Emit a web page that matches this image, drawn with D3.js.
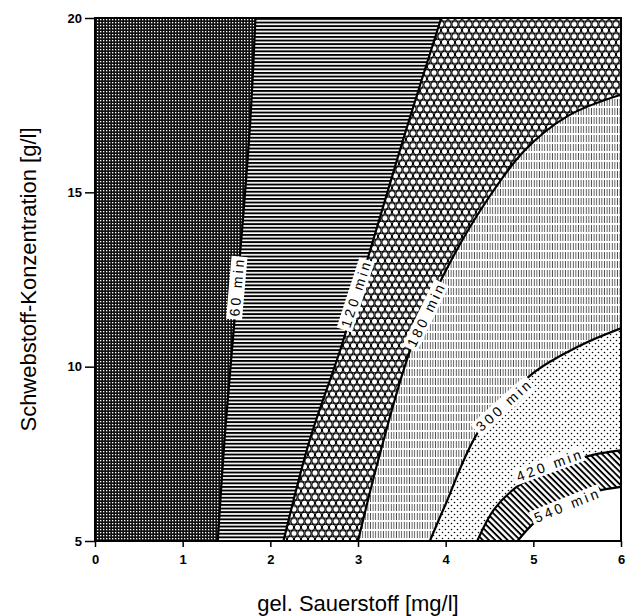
<!DOCTYPE html>
<html>
<head>
<meta charset="utf-8">
<script src="https://cdn.jsdelivr.net/npm/d3@7"></script>
<style>
  body { margin: 0; background: #fff; }
  text { font-family: "Liberation Sans", Arial, sans-serif; }
</style>
</head>
<body>
<div id="chart"></div>
<script>
// contour lines: [O2 mg/l, Schwebstoff g/l]
const iso60  = [[1.40, 5], [1.48, 8], [1.58, 11], [1.68, 14], [1.77, 17], [1.83, 20]];
const iso120 = [[2.15, 5], [2.45, 7.9], [2.80, 10.5], [3.17, 13.6], [3.55, 16.8], [3.95, 20]];
const iso180 = [[3.0, 5], [3.25, 7.5], [3.6, 10.5], [3.95, 12.5], [4.4, 14.5], [4.9, 16.2], [5.4, 17.2], [6.0, 17.8]];
const iso300 = [[3.82, 5], [3.99, 6.0], [4.39, 8.2], [4.99, 9.8], [5.53, 10.6], [6.0, 11.1]];
const iso420 = [[4.36, 5], [4.55, 5.9], [4.81, 6.55], [5.15, 7.04], [5.68, 7.47], [6.0, 7.6]];
const iso540 = [[4.82, 5], [5.02, 5.55], [5.38, 6.18], [5.7, 6.42], [6.0, 6.55]];

const labelText = ["60 min", "120 min", "180 min", "300 min", "420 min", "540 min"];
const labelX = [1.62, 2.98, 3.78, 4.67, 5.19, 5.39];
const labelY = [12.3, 12.1, 11.5, 8.9, 7.18, 6.03];
const labelAngle = [-85, -72, -64, -42, -20, -22];

const xTicks = [0, 1, 2, 3, 4, 5, 6];
const yTicks = [5, 10, 15, 20];

const width = 632, height = 616;
const margin = { top: 18, right: 11, bottom: 75, left: 95 };

const svg = d3.select("#chart").append("svg")
    .attr("width", width)
    .attr("height", height);

const x = d3.scaleLinear().domain([0, 6]).range([margin.left, width - margin.right]);
const y = d3.scaleLinear().domain([5, 20]).range([height - margin.bottom, margin.top]);

const defs = svg.append("defs");

// fill patterns, one per band
const pCross = defs.append("pattern").attr("id", "p60").attr("patternUnits", "userSpaceOnUse")
    .attr("width", 3).attr("height", 3);
pCross.append("rect").attr("width", 3).attr("height", 3).attr("fill", "#111");
pCross.append("rect").attr("x", 1).attr("y", 1).attr("width", 1.3).attr("height", 1.3).attr("fill", "#fff");

const pHoriz = defs.append("pattern").attr("id", "p120").attr("patternUnits", "userSpaceOnUse")
    .attr("width", 8).attr("height", 3.6);
pHoriz.append("rect").attr("width", 8).attr("height", 3.6).attr("fill", "#fff");
pHoriz.append("rect").attr("y", 0).attr("width", 8).attr("height", 1.9).attr("fill", "#000");

const hw = 7, hh = 7 * Math.sqrt(3);
const pHex = defs.append("pattern").attr("id", "p180").attr("patternUnits", "userSpaceOnUse")
    .attr("width", hw).attr("height", hh);
pHex.append("rect").attr("width", hw).attr("height", hh).attr("fill", "#fff");
[[0, 0], [hw, 0], [hw / 2, hh / 2], [0, hh], [hw, hh]].forEach(c => {
    pHex.append("circle").attr("cx", c[0]).attr("cy", c[1]).attr("r", 3.1)
        .attr("fill", "#fff").attr("stroke", "#000").attr("stroke-width", 1.1);
});

const pVert = defs.append("pattern").attr("id", "p300").attr("patternUnits", "userSpaceOnUse")
    .attr("width", 2.6).attr("height", 9);
pVert.append("rect").attr("width", 2.6).attr("height", 9).attr("fill", "#fff");
pVert.append("rect").attr("x", 0.8).attr("width", 0.9).attr("height", 7).attr("fill", "#000").attr("opacity", 0.7);

const pDots = defs.append("pattern").attr("id", "p420").attr("patternUnits", "userSpaceOnUse")
    .attr("width", 6).attr("height", 6);
pDots.append("rect").attr("width", 6).attr("height", 6).attr("fill", "#fff");
pDots.append("circle").attr("cx", 1.5).attr("cy", 1.5).attr("r", 0.8).attr("fill", "#000");
pDots.append("circle").attr("cx", 4.5).attr("cy", 4.5).attr("r", 0.8).attr("fill", "#000");

const pDiag = defs.append("pattern").attr("id", "p540").attr("patternUnits", "userSpaceOnUse")
    .attr("width", 4.4).attr("height", 4.4).attr("patternTransform", "rotate(45)");
pDiag.append("rect").attr("width", 4.4).attr("height", 4.4).attr("fill", "#fff");
pDiag.append("rect").attr("width", 4.4).attr("height", 1.9).attr("fill", "#000");

defs.append("clipPath").attr("id", "plotClip").append("rect")
    .attr("x", x(0)).attr("y", y(20))
    .attr("width", x(6) - x(0)).attr("height", y(5) - y(20));

const line = d3.line()
    .x(d => x(d[0]))
    .y(d => y(d[1]))
    .curve(d3.curveCatmullRom.alpha(0.5));

const plot = svg.append("g").attr("clip-path", "url(#plotClip)");

// base band (< 60 min)
plot.append("rect")
    .attr("x", x(0)).attr("y", y(20))
    .attr("width", x(6) - x(0)).attr("height", y(5) - y(20))
    .attr("fill", "url(#p60)");

// bands drawn on top of each other, each = right/below of its contour
const bands = [
    { pts: iso60, fill: "url(#p120)", full: true },
    { pts: iso120, fill: "url(#p180)", full: true },
    { pts: iso180, fill: "url(#p300)", full: false },
    { pts: iso300, fill: "url(#p420)", full: false },
    { pts: iso420, fill: "url(#p540)", full: false },
    { pts: iso540, fill: "#fff", full: false }
];

bands.forEach(b => {
    const tail = b.full
        ? `L${x(6)},${y(20)}L${x(6)},${y(5)}Z`
        : `L${x(6)},${y(5)}Z`;
    plot.append("path")
        .attr("d", line(b.pts) + tail)
        .attr("fill", b.fill)
        .attr("stroke", "none");
});

bands.forEach(b => {
    plot.append("path")
        .attr("d", line(b.pts))
        .attr("fill", "none")
        .attr("stroke", "#000")
        .attr("stroke-width", 2.2);
});

// contour labels with white box
labelText.forEach((t, i) => {
    const g = svg.append("g")
        .attr("transform", `translate(${x(labelX[i])},${y(labelY[i])}) rotate(${labelAngle[i]})`);
    const txt = g.append("text")
        .attr("text-anchor", "middle")
        .attr("dy", "0.35em")
        .attr("font-size", 14)
        .attr("letter-spacing", 3)
        .attr("fill", "#000")
        .text(t);
    const bb = txt.node().getBBox();
    g.insert("rect", "text")
        .attr("x", bb.x - 3).attr("y", bb.y)
        .attr("width", bb.width + 3).attr("height", bb.height)
        .attr("fill", "#fff");
});

// frame
svg.append("rect")
    .attr("x", x(0)).attr("y", y(20))
    .attr("width", x(6) - x(0)).attr("height", y(5) - y(20))
    .attr("fill", "none")
    .attr("stroke", "#000")
    .attr("stroke-width", 2);

// axes
const xAxis = svg.append("g")
    .attr("transform", `translate(0,${y(5)})`)
    .call(d3.axisBottom(x).tickValues(xTicks).tickFormat(d3.format("d")).tickSize(6).tickSizeOuter(0));
const yAxis = svg.append("g")
    .attr("transform", `translate(${x(0)},0)`)
    .call(d3.axisLeft(y).tickValues(yTicks).tickFormat(d3.format("d")).tickSize(10).tickSizeOuter(0));

[xAxis, yAxis].forEach(a => {
    a.select(".domain").remove();
    a.selectAll(".tick line").attr("stroke", "#000").attr("stroke-width", 1.5);
    a.selectAll(".tick text")
        .attr("font-family", "'Liberation Sans', Arial, sans-serif")
        .attr("font-size", 13)
        .attr("font-weight", "bold")
        .attr("fill", "#000");
});
xAxis.selectAll(".tick text").attr("dy", "1.1em");
yAxis.selectAll(".tick text").attr("x", -13);

svg.append("text")
    .attr("x", (x(0) + x(6)) / 2)
    .attr("y", 611)
    .attr("text-anchor", "middle")
    .attr("font-size", 22)
    .text("gel. Sauerstoff [mg/l]");

svg.append("text")
    .attr("transform", `translate(36,${(y(5) + y(20)) / 2}) rotate(-90)`)
    .attr("text-anchor", "middle")
    .attr("font-size", 22)
    .text("Schwebstoff-Konzentration [g/l]");
</script>
</body>
</html>
